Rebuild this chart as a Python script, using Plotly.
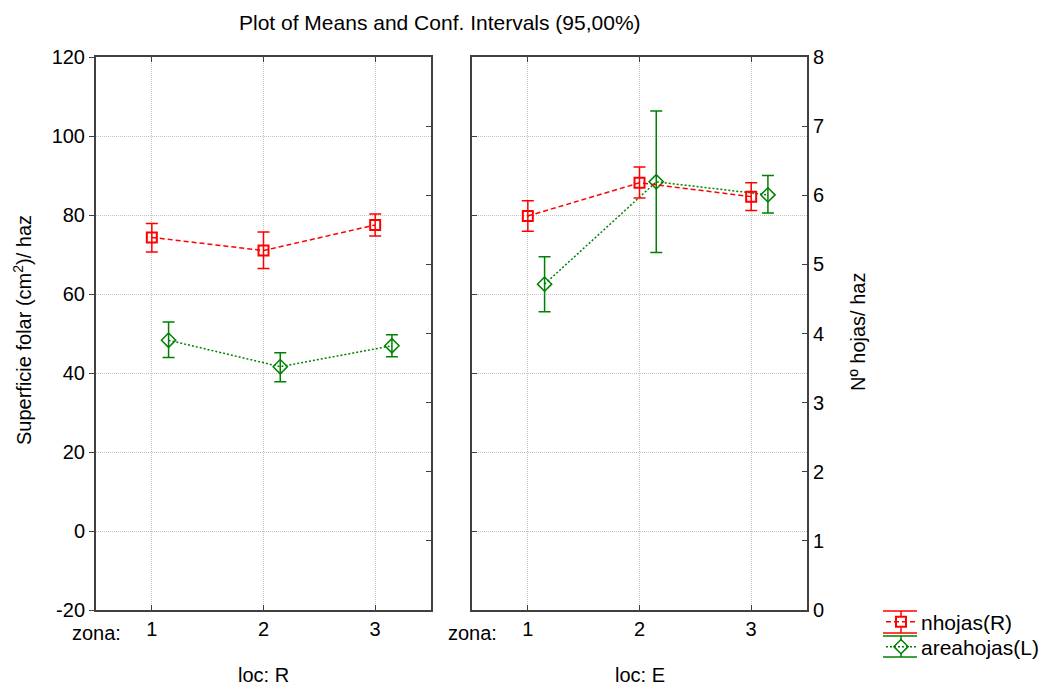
import plotly.graph_objects as go

W, H = 1046, 685

# ---- data ----
zona = [1, 2, 3]
zona_labels = ["1", "2", "3"]
loc_labels = ["loc: R", "loc: E"]

# nhojas (right axis, Nº hojas/ haz)
nhojas_R = [5.39, 5.20, 5.57]
nhojas_R_hi = [5.59, 5.47, 5.73]
nhojas_R_lo = [5.18, 4.94, 5.41]
nhojas_E = [5.70, 6.18, 5.98]
nhojas_E_hi = [5.92, 6.41, 6.18]
nhojas_E_lo = [5.48, 5.96, 5.78]

# areahojas (left axis, Superficie folar)
area_R = [48.3, 41.6, 46.9]
area_R_hi = [52.9, 45.1, 49.7]
area_R_lo = [43.9, 37.8, 44.1]
area_E = [62.5, 88.4, 85.1]
area_E_hi = [69.4, 106.3, 90.0]
area_E_lo = [55.5, 70.5, 80.5]

left_ticks = [-20, 0, 20, 40, 60, 80, 100, 120]
left_tick_labels = ["-20", "0", "20", "40", "60", "80", "100", "120"]
right_ticks = [0, 1, 2, 3, 4, 5, 6, 7, 8]

# ---- style ----
FONT = "Liberation Sans, Arial, sans-serif"
FS = 20
FS_BIG = 21
RED = "#ff0000"
GREEN = "#008000"
AXC = "#404040"
GRIDC = "#c4c4c4"
GRIDDASH = "1px,1px"
OFFSET = 0.15

def px(x):
    return x / W

def py(y):
    return 1 - y / H

ydom = [py(610), py(57)]
xdomL = [px(96), px(431)]
xdomR = [px(472), px(807)]

def err(mean, hi, lo):
    return dict(type="data", symmetric=False,
                array=[h - m for h, m in zip(hi, mean)],
                arrayminus=[m - l for m, l in zip(mean, lo)])

fig = go.Figure()

panels = [
    ("x", "y", "y2", nhojas_R, nhojas_R_hi, nhojas_R_lo, area_R, area_R_hi, area_R_lo, True),
    ("x2", "y3", "y4", nhojas_E, nhojas_E_hi, nhojas_E_lo, area_E, area_E_hi, area_E_lo, False),
]
for xa, yl, yr, nh, nhh, nhl, ar, arh, arl, show in panels:
    fig.add_trace(go.Scatter(
        x=zona, y=nh, xaxis=xa, yaxis=yr, mode="lines+markers",
        name="nhojas(R)", legend="legend", showlegend=show,
        line=dict(color=RED, dash="5px,3px", width=1.5),
        marker=dict(symbol="square-open", size=10, color=RED, line=dict(width=2, color=RED)),
        error_y=dict(**err(nh, nhh, nhl), color=RED, thickness=1.5, width=6),
    ))
    fig.add_trace(go.Scatter(
        x=[z + OFFSET for z in zona], y=ar, xaxis=xa, yaxis=yl, mode="lines+markers",
        name="areahojas(L)", legend="legend2", showlegend=show,
        line=dict(color=GREEN, dash="2px,2px", width=1.5),
        marker=dict(symbol="diamond-open", size=11, color=GREEN, line=dict(width=1.5, color=GREEN)),
        error_y=dict(**err(ar, arh, arl), color=GREEN, thickness=1.5, width=6),
    ))

xcommon = dict(range=[0.5, 3.5], tickvals=zona, ticktext=zona_labels,
               ticks="inside", ticklen=5, tickcolor=AXC, tickwidth=1,
               showline=True, linecolor=AXC, linewidth=2, mirror="ticks",
               showgrid=True, gridcolor=GRIDC, griddash=GRIDDASH, gridwidth=1,
               zeroline=False, fixedrange=True, automargin=False,
               tickfont=dict(family=FONT, size=FS, color="#000"))
ycommon = dict(range=[-20, 120], tickvals=left_ticks, ticktext=left_tick_labels,
               domain=ydom,
               showline=True, linecolor=AXC, linewidth=2,
               showgrid=True, gridcolor=GRIDC, griddash=GRIDDASH, gridwidth=1,
               zeroline=False, tickcolor=AXC, ticklen=5, automargin=False,
               fixedrange=True,
               tickfont=dict(family=FONT, size=FS, color="#000"))
rcommon = dict(range=[0, 8], tickvals=right_ticks, side="right",
               showline=True, linecolor=AXC, linewidth=2, showgrid=False,
               zeroline=False, ticks="inside", ticklen=5, tickcolor=AXC, automargin=False,
               fixedrange=True,
               tickfont=dict(family=FONT, size=FS, color="#000"))

legcommon = dict(xanchor="left", yanchor="middle", bgcolor="rgba(0,0,0,0)",
                 borderwidth=0, font=dict(family=FONT, size=FS_BIG, color="#000"))

fig.update_layout(
    width=W, height=H, autosize=False,
    margin=dict(l=0, r=0, t=0, b=0, pad=0, autoexpand=False),
    paper_bgcolor="white", plot_bgcolor="white",
    font=dict(family=FONT, size=FS, color="#000"),
    xaxis=dict(**xcommon, domain=xdomL, anchor="y"),
    xaxis2=dict(**xcommon, domain=xdomR, anchor="y3"),
    yaxis=dict(**ycommon, anchor="x", ticks="outside", showticklabels=True),
    yaxis2=dict(**rcommon, overlaying="y", anchor="x", showticklabels=False),
    yaxis3=dict(**ycommon, anchor="x2", ticks="inside", showticklabels=False),
    yaxis4=dict(**rcommon, overlaying="y3", anchor="x2", showticklabels=True),
    legend=dict(x=px(881), y=py(622), **legcommon),
    legend2=dict(x=px(881), y=py(647), **legcommon),
    showlegend=True,
)

# error-bar caps of the legend glyphs (decoration)
glyphs = [(RED, 611, 622, 633, 5.5), (GREEN, 636, 647, 657, 6)]
for col, top, mid, bot, half in glyphs:
    for yy in (top, bot):
        fig.add_shape(type="line", xref="paper", yref="paper",
                      x0=px(883), x1=px(917), y0=py(yy), y1=py(yy),
                      line=dict(color=col, width=1.5))
    fig.add_shape(type="line", xref="paper", yref="paper",
                  x0=px(901), x1=px(901), y0=py(top), y1=py(mid - half),
                  line=dict(color=col, width=1.5))
    fig.add_shape(type="line", xref="paper", yref="paper",
                  x0=px(901), x1=px(901), y0=py(mid + half), y1=py(bot),
                  line=dict(color=col, width=1.5))

ann = [
    dict(text="Plot of Means and Conf. Intervals (95,00%)", x=px(440), y=py(22), size=FS_BIG),
    dict(text="Superficie folar (cm<sup>2</sup>)/ haz", x=px(22), y=py(330), textangle=-90, size=FS),
    dict(text="Nº hojas/ haz", x=px(858), y=py(332), textangle=-90, size=FS),
    dict(text="zona:", x=px(96), y=py(633), size=FS),
    dict(text="zona:", x=px(472), y=py(633), size=FS),
    dict(text=loc_labels[0], x=px(263), y=py(675), size=FS),
    dict(text=loc_labels[1], x=px(640), y=py(675), size=FS),
]
for a in ann:
    size = a.pop("size")
    fig.add_annotation(xref="paper", yref="paper", showarrow=False,
                       xanchor="center", yanchor="middle",
                       font=dict(family=FONT, size=size, color="#000"), **a)

fig.write_html("out.html", config={"displayModeBar": False},
               post_script="document.body.style.margin='0';document.body.style.overflow='hidden';")
